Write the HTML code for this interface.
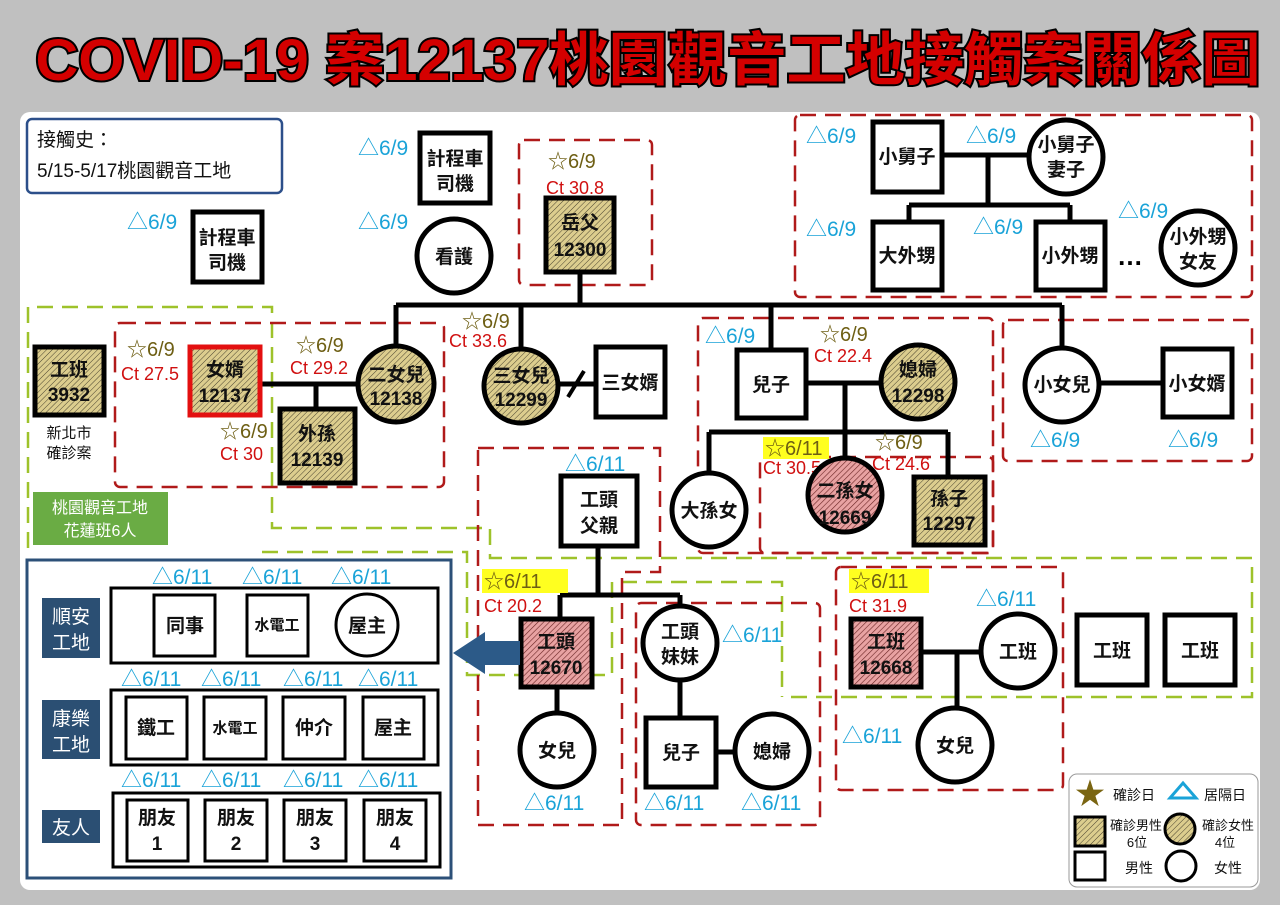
<!DOCTYPE html>
<html><head><meta charset="utf-8"><style>
html,body{margin:0;padding:0;background:#c0c0c0;}
svg{display:block;}
text{font-family:"Liberation Sans","Noto Sans CJK TC",sans-serif;}
.n{font-weight:bold;font-size:19px;fill:#111;text-anchor:middle;}
.s{font-weight:bold;font-size:15px;fill:#111;text-anchor:middle;}
.b{font-size:21px;fill:#1aa3d8;}
.y{font-size:20px;fill:#6e5f14;}
.r{font-size:18px;fill:#d01010;}
.sq{fill:#fff;stroke:#000;stroke-width:5;}
.th{stroke:#000;stroke-width:3;fill:#fff;}
.ln{stroke:#000;stroke-width:5;fill:none;}
.rd{stroke:#b01a1a;stroke-width:2.5;stroke-dasharray:16 9;fill:none;}
.gd{stroke:#9ec22a;stroke-width:2.5;stroke-dasharray:16 9;fill:none;}
</style></head><body>
<svg width="1280" height="905" viewBox="0 0 1280 905" xmlns="http://www.w3.org/2000/svg">
<defs>
<pattern id="tan" width="4" height="4" patternUnits="userSpaceOnUse" patternTransform="rotate(45)">
<rect width="4" height="4" fill="#dccd8e"/><line x1="0" y1="0" x2="0" y2="4" stroke="#4a4430" stroke-width="1"/></pattern>
<pattern id="pink" width="4" height="4" patternUnits="userSpaceOnUse" patternTransform="rotate(45)">
<rect width="4" height="4" fill="#e8a2a2"/><line x1="0" y1="0" x2="0" y2="4" stroke="#6a2424" stroke-width="1.2"/></pattern>
</defs>
<rect width="1280" height="905" fill="#c0c0c0"/>
<text x="648" y="80" text-anchor="middle" font-size="58" font-weight="bold" fill="#d40000" stroke="#000" stroke-width="4" paint-order="stroke" textLength="1225" lengthAdjust="spacingAndGlyphs" style="font-family:'Liberation Sans','Noto Sans CJK TC',sans-serif">COVID-19 案12137桃園觀音工地接觸案關係圖</text>
<rect x="20" y="112" width="1240" height="778" rx="10" fill="#fff"/>

<!-- contact box -->
<rect x="27" y="119" width="255" height="74" rx="5" fill="#fff" stroke="#2c4f8a" stroke-width="2.5"/>
<text x="37" y="146" font-size="19" fill="#111">接觸史：</text>
<text x="37" y="177" font-size="19" fill="#111">5/15-5/17桃園觀音工地</text>

<!-- dashed boxes -->
<path class="gd" d="M28,548 L28,307 L272,307 L272,528 L490,528 L490,558 L1252,558 L1252,697 L785,697"/>
<path class="gd" d="M262,552 L467,552 L467,675 L612,675 L612,582 L782,582 L782,697"/>
<rect class="rd" x="519" y="140" width="133" height="145" rx="5"/>
<rect class="rd" x="115" y="323" width="329" height="164" rx="5"/>
<path class="rd" d="M478,448 H660 V572 H622 V825 H478 Z"/>
<rect class="rd" x="698" y="318" width="295" height="235" rx="5"/>
<rect class="rd" x="760" y="457" width="233" height="96" rx="5"/>
<rect class="rd" x="795" y="115" width="457" height="182" rx="5"/>
<rect class="rd" x="1003" y="320" width="249" height="141" rx="5"/>
<rect class="rd" x="636" y="603" width="184" height="222" rx="5"/>
<rect class="rd" x="836" y="567" width="227" height="223" rx="5"/>

<!-- lines -->
<path class="ln" d="M396,305 H1062 M580,272 V305 M396,305 V348 M521,305 V348 M771,305 V350 M1062,305 V348"/>
<path class="ln" d="M260,384 H358 M316,384 V409"/>
<path class="ln" d="M558,384 H596"/>
<path stroke="#000" stroke-width="4" d="M568,397 L584,371"/>
<path class="ln" d="M806,383 H881 M845,383 V432 M709,432 H948 M709,432 V473 M845,432 V458 M948,432 V477"/>
<path class="ln" d="M1099,383 H1163"/>
<path class="ln" d="M942,155 H1029 M988,155 V205 M909,205 H1070 M909,205 V222 M1070,205 V222"/>
<path class="ln" d="M598,546 V595 M560,595 H680 M560,595 V619 M680,595 V606 M557,687 V713 M680,680 V718 M716,752 H735"/>
<path class="ln" d="M921,652 H981 M957,652 V708"/>

<!-- top nodes -->
<rect class="sq" x="420" y="133" width="70" height="70"/>
<text class="n" x="455" y="165">計程車</text><text class="n" x="455" y="190">司機</text>
<text class="b" x="358" y="155">△6/9</text>
<rect class="sq" x="193" y="212" width="69" height="70"/>
<text class="n" x="227" y="244">計程車</text><text class="n" x="227" y="269">司機</text>
<text class="b" x="127" y="229">△6/9</text>
<circle class="sq" cx="454" cy="256" r="37"/>
<text class="n" x="454" y="263">看護</text>
<text class="b" x="358" y="229">△6/9</text>

<text class="y" x="548" y="168">☆6/9</text>
<text class="r" x="546" y="194">Ct 30.8</text>
<rect class="sq" x="546" y="198" width="68" height="74" style="fill:url(#tan)"/>
<text class="n" x="580" y="229">岳父</text><text class="n" x="580" y="256">12300</text>

<!-- left family -->
<rect class="sq" x="35" y="347" width="69" height="68" style="fill:url(#tan)"/>
<text class="n" x="69" y="376">工班</text><text class="n" x="69" y="401">3932</text>
<text x="69" y="438" font-size="15" text-anchor="middle" fill="#111">新北市</text>
<text x="69" y="458" font-size="15" text-anchor="middle" fill="#111">確診案</text>
<rect x="33" y="492" width="135" height="53" fill="#6aac44"/>
<text x="100" y="513" font-size="16" fill="#fff" text-anchor="middle">桃園觀音工地</text>
<text x="100" y="536" font-size="16" fill="#fff" text-anchor="middle">花蓮班6人</text>

<text class="y" x="127" y="356">☆6/9</text>
<text class="r" x="121" y="380">Ct 27.5</text>
<rect x="190" y="347" width="70" height="68" fill="url(#tan)" stroke="#e31010" stroke-width="5"/>
<text class="n" x="225" y="376">女婿</text><text class="n" x="225" y="402">12137</text>
<text class="y" x="220" y="438">☆6/9</text>
<text class="r" x="220" y="460">Ct 30</text>
<text class="y" x="296" y="352">☆6/9</text>
<text class="r" x="290" y="374">Ct 29.2</text>
<circle class="sq" cx="396" cy="384" r="38" style="fill:url(#tan)"/>
<text class="n" x="396" y="381">二女兒</text><text class="n" x="396" y="405">12138</text>
<rect class="sq" x="280" y="409" width="75" height="74" style="fill:url(#tan)"/>
<text class="n" x="317" y="440">外孫</text><text class="n" x="317" y="466">12139</text>

<text class="y" x="462" y="328">☆6/9</text>
<text class="r" x="449" y="347">Ct 33.6</text>
<circle class="sq" cx="521" cy="386" r="37" style="fill:url(#tan)"/>
<text class="n" x="521" y="382">三女兒</text><text class="n" x="521" y="406">12299</text>
<rect class="sq" x="596" y="347" width="69" height="70"/>
<text class="n" x="630" y="389">三女婿</text>

<!-- son family -->
<text class="b" x="705" y="343">△6/9</text>
<text class="y" x="820" y="341">☆6/9</text>
<text class="r" x="814" y="362">Ct 22.4</text>
<rect class="sq" x="737" y="350" width="69" height="68"/>
<text class="n" x="771" y="391">兒子</text>
<circle class="sq" cx="918" cy="382" r="37" style="fill:url(#tan)"/>
<text class="n" x="918" y="376">媳婦</text><text class="n" x="918" y="402">12298</text>
<circle class="sq" cx="709" cy="510" r="37"/>
<text class="n" x="709" y="517">大孫女</text>
<rect x="763" y="437" width="66" height="22" fill="#ffff20"/>
<text class="y" x="765" y="455">☆6/11</text>
<text class="r" x="763" y="474">Ct 30.5</text>
<circle class="sq" cx="845" cy="495" r="37" style="fill:url(#pink)"/>
<text class="n" x="845" y="497">二孫女</text><text class="n" x="845" y="524">12669</text>
<text class="y" x="875" y="449">☆6/9</text>
<text class="r" x="872" y="470">Ct 24.6</text>
<rect class="sq" x="914" y="477" width="71" height="68" style="fill:url(#tan)"/>
<text class="n" x="949" y="505">孫子</text><text class="n" x="949" y="530">12297</text>

<!-- youngest daughter -->
<circle class="sq" cx="1062" cy="385" r="37"/>
<text class="n" x="1062" y="391">小女兒</text>
<rect class="sq" x="1163" y="349" width="69" height="68"/>
<text class="n" x="1197" y="390">小女婿</text>
<text class="b" x="1030" y="447">△6/9</text>
<text class="b" x="1168" y="447">△6/9</text>

<!-- top right -->
<text class="b" x="806" y="143">△6/9</text>
<rect class="sq" x="873" y="122" width="69" height="70"/>
<text class="n" x="907" y="163">小舅子</text>
<text class="b" x="966" y="143">△6/9</text>
<circle class="sq" cx="1066" cy="157" r="37"/>
<text class="n" x="1066" y="151">小舅子</text><text class="n" x="1066" y="176">妻子</text>
<text class="b" x="806" y="236">△6/9</text>
<rect class="sq" x="873" y="222" width="69" height="68"/>
<text class="n" x="907" y="262">大外甥</text>
<text class="b" x="973" y="234">△6/9</text>
<rect class="sq" x="1036" y="222" width="69" height="68"/>
<text class="n" x="1070" y="262">小外甥</text>
<text x="1130" y="265" font-size="26" font-weight="bold" text-anchor="middle" fill="#000">…</text>
<text class="b" x="1118" y="218">△6/9</text>
<circle class="sq" cx="1198" cy="248" r="37"/>
<text class="n" x="1198" y="243">小外甥</text><text class="n" x="1198" y="268">女友</text>

<!-- foreman -->
<text class="b" x="565" y="471">△6/11</text>
<rect class="sq" x="561" y="476" width="76" height="70"/>
<text class="n" x="599" y="506">工頭</text><text class="n" x="599" y="532">父親</text>
<rect x="482" y="569" width="86" height="24" fill="#ffff20"/>
<text class="y" x="484" y="588">☆6/11</text>
<text class="r" x="484" y="612">Ct 20.2</text>
<rect class="sq" x="521" y="619" width="71" height="68" style="fill:url(#pink)"/>
<text class="n" x="556" y="648">工頭</text><text class="n" x="556" y="674">12670</text>
<path d="M520,641 H485 V632 L453,653 L485,674 V665 H520 Z" fill="#2c5a88"/>
<circle class="sq" cx="557" cy="750" r="37"/>
<text class="n" x="557" y="757">女兒</text>
<text class="b" x="524" y="810">△6/11</text>
<circle class="sq" cx="680" cy="643" r="37"/>
<text class="n" x="680" y="638">工頭</text><text class="n" x="680" y="663">妹妹</text>
<text class="b" x="722" y="642">△6/11</text>
<rect class="sq" x="646" y="718" width="70" height="69"/>
<text class="n" x="681" y="759">兒子</text>
<circle class="sq" cx="772" cy="751" r="37"/>
<text class="n" x="772" y="758">媳婦</text>
<text class="b" x="644" y="810">△6/11</text>
<text class="b" x="741" y="810">△6/11</text>

<!-- work crew -->
<rect x="849" y="569" width="80" height="24" fill="#ffff20"/>
<text class="y" x="851" y="588">☆6/11</text>
<text class="r" x="849" y="612">Ct 31.9</text>
<rect class="sq" x="851" y="619" width="70" height="68" style="fill:url(#pink)"/>
<text class="n" x="886" y="648">工班</text><text class="n" x="886" y="674">12668</text>
<text class="b" x="976" y="606">△6/11</text>
<circle class="sq" cx="1018" cy="651" r="37"/>
<text class="n" x="1018" y="658">工班</text>
<circle class="sq" cx="955" cy="745" r="37"/>
<text class="n" x="955" y="752">女兒</text>
<text class="b" x="842" y="743">△6/11</text>
<rect class="sq" x="1077" y="615" width="70" height="70"/>
<text class="n" x="1112" y="657">工班</text>
<rect class="sq" x="1165" y="615" width="70" height="70"/>
<text class="n" x="1200" y="657">工班</text>

<!-- left panel -->
<rect x="27" y="560" width="424" height="318" fill="#fff" stroke="#2c5078" stroke-width="3"/>
<rect x="42" y="598" width="58" height="60" fill="#2b4f73"/>
<text x="71" y="623" font-size="19" fill="#fff" text-anchor="middle">順安</text>
<text x="71" y="649" font-size="19" fill="#fff" text-anchor="middle">工地</text>
<rect x="42" y="700" width="58" height="59" fill="#2b4f73"/>
<text x="71" y="725" font-size="19" fill="#fff" text-anchor="middle">康樂</text>
<text x="71" y="751" font-size="19" fill="#fff" text-anchor="middle">工地</text>
<rect x="42" y="810" width="58" height="33" fill="#2b4f73"/>
<text x="71" y="834" font-size="19" fill="#fff" text-anchor="middle">友人</text>

<rect class="th" x="111" y="588" width="327" height="75"/>
<rect class="th" x="111" y="690" width="327" height="75"/>
<rect class="th" x="113" y="793" width="327" height="74"/>
<text class="b" x="152" y="584">△6/11</text>
<text class="b" x="242" y="584">△6/11</text>
<text class="b" x="331" y="584">△6/11</text>
<rect class="th" x="154" y="595" width="61" height="61"/><text class="n" x="185" y="632">同事</text>
<rect class="th" x="247" y="595" width="61" height="61"/><text class="s" x="277" y="630">水電工</text>
<circle class="th" cx="367" cy="625" r="31"/><text class="n" x="367" y="632">屋主</text>

<text class="b" x="121" y="686">△6/11</text>
<text class="b" x="201" y="686">△6/11</text>
<text class="b" x="283" y="686">△6/11</text>
<text class="b" x="358" y="686">△6/11</text>
<rect class="th" x="126" y="697" width="61" height="62"/><text class="n" x="156" y="734">鐵工</text>
<rect class="th" x="204" y="697" width="62" height="62"/><text class="s" x="235" y="733">水電工</text>
<rect class="th" x="283" y="697" width="62" height="62"/><text class="n" x="314" y="734">仲介</text>
<rect class="th" x="363" y="697" width="61" height="62"/><text class="n" x="393" y="734">屋主</text>

<text class="b" x="121" y="787">△6/11</text>
<text class="b" x="201" y="787">△6/11</text>
<text class="b" x="283" y="787">△6/11</text>
<text class="b" x="358" y="787">△6/11</text>
<rect class="th" x="127" y="800" width="61" height="61"/><text class="n" x="157" y="824">朋友</text><text class="n" x="157" y="850">1</text>
<rect class="th" x="205" y="800" width="62" height="61"/><text class="n" x="236" y="824">朋友</text><text class="n" x="236" y="850">2</text>
<rect class="th" x="284" y="800" width="62" height="61"/><text class="n" x="315" y="824">朋友</text><text class="n" x="315" y="850">3</text>
<rect class="th" x="364" y="800" width="62" height="61"/><text class="n" x="395" y="824">朋友</text><text class="n" x="395" y="850">4</text>

<!-- legend -->
<rect x="1069" y="774" width="189" height="113" rx="8" fill="#fff" stroke="#999" stroke-width="1"/>
<text x="1090" y="804" font-size="30" fill="#7a6512" text-anchor="middle">★</text>
<text x="1113" y="800" font-size="14" fill="#111">確診日</text>
<path d="M1170,798 L1183,783 L1196,798 Z" fill="none" stroke="#1aa3d8" stroke-width="3"/>
<text x="1204" y="800" font-size="14" fill="#111">居隔日</text>
<rect x="1075" y="817" width="30" height="29" fill="url(#tan)" stroke="#000" stroke-width="3"/>
<text x="1110" y="830" font-size="13" fill="#111">確診男性</text>
<text x="1137" y="847" font-size="13" fill="#111" text-anchor="middle">6位</text>
<circle cx="1180" cy="829" r="15" fill="url(#tan)" stroke="#000" stroke-width="3"/>
<text x="1202" y="830" font-size="13" fill="#111">確診女性</text>
<text x="1225" y="847" font-size="13" fill="#111" text-anchor="middle">4位</text>
<rect x="1075" y="852" width="30" height="28" fill="#fff" stroke="#000" stroke-width="3"/>
<text x="1125" y="873" font-size="14" fill="#111">男性</text>
<circle cx="1181" cy="866" r="15" fill="#fff" stroke="#000" stroke-width="3"/>
<text x="1214" y="873" font-size="14" fill="#111">女性</text>
</svg>
</body></html>
